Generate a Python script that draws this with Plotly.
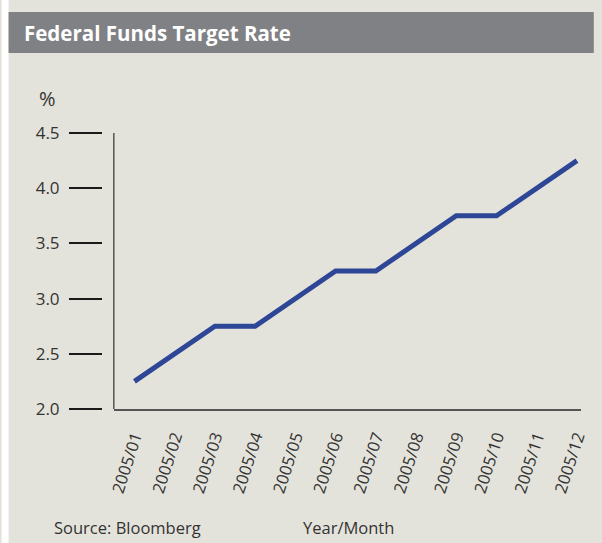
import plotly.graph_objects as go

months = ["2005/01", "2005/02", "2005/03", "2005/04", "2005/05", "2005/06",
          "2005/07", "2005/08", "2005/09", "2005/10", "2005/11", "2005/12"]
rate = [2.25, 2.5, 2.75, 2.75, 3.0, 3.25, 3.25, 3.5, 3.75, 3.75, 4.0, 4.25]
y_ticks = [2.0, 2.5, 3.0, 3.5, 4.0, 4.5]
y_ticktext = ["2.0", "2.5", "3.0", "3.5", "4.0", "4.5"]

W, H = 602, 543
BG = "#e4e3db"
HEADER = "#808185"
LINE = "#2d4696"
FONT = "Open Sans"

# plot area pixels
L, R, T, B = 102, 589, 133, 409
axis_x = 114
xd0 = (axis_x - L) / (R - L)

def px(x):
    return (x - L) / (R - L)

def py(y):
    return (B - y) / (B - T)

fig = go.Figure()
fig.add_trace(go.Scatter(
    x=months, y=rate, mode="lines",
    line=dict(color=LINE, width=5),
    hoverinfo="skip", showlegend=False,
))

fig.update_layout(
    width=W, height=H,
    margin=dict(l=L, r=W - R, t=T, b=H - B, pad=0),
    paper_bgcolor=BG, plot_bgcolor=BG,
    font=dict(family=FONT, size=16, color="#333333"),
    xaxis=dict(
        type="category", domain=[xd0, 1],
        range=[-0.513, 11.1],
        showgrid=False, zeroline=False,
        showline=True, linecolor="#555555", linewidth=1.5,
        ticks="", tickangle=-72,
        tickfont=dict(family=FONT, size=16.5, color="#333333"),
        ticklabelstandoff=10,
        fixedrange=True,
    ),
    yaxis=dict(
        range=[2.0, 4.5], anchor="free", position=0,
        tickvals=y_ticks, ticktext=y_ticktext,
        showgrid=False, zeroline=False, showline=False,
        ticks="outside", ticklen=33, tickwidth=2, tickcolor="#1a1a1a",
        tickfont=dict(family=FONT, size=17, color="#333333"),
        ticklabelstandoff=6,
        fixedrange=True,
    ),
    shapes=[
        # left white strip
        dict(type="rect", xref="paper", yref="paper", x0=px(0), x1=px(7),
             y0=py(H), y1=py(0), fillcolor="white", line=dict(width=0), layer="below"),
        # header band
        dict(type="rect", xref="paper", yref="paper", x0=px(7), x1=px(W),
             y0=py(53), y1=py(12), fillcolor=HEADER, line=dict(width=0), layer="below"),
        # y axis line
        dict(type="line", xref="x domain", yref="y domain", x0=0, x1=0, y0=0, y1=1,
             line=dict(color="#555555", width=1.5)),
    ],
    annotations=[
        dict(text="<b>Federal Funds Target Rate</b>", xref="paper", yref="paper",
             x=px(21), y=py(33), xanchor="left", yanchor="middle", showarrow=False,
             font=dict(family=FONT, size=20.5, color="white")),
        dict(text="%", xref="paper", yref="paper", x=px(47), y=py(99),
             xanchor="center", yanchor="middle", showarrow=False,
             font=dict(family=FONT, size=20, color="#333333")),
        dict(text="Source: Bloomberg", xref="paper", yref="paper", x=px(51), y=py(527),
             xanchor="left", yanchor="middle", showarrow=False,
             font=dict(family=FONT, size=16.5, color="#333333")),
        dict(text="Year/Month", xref="paper", yref="paper", x=px(304), y=py(527),
             xanchor="left", yanchor="middle", showarrow=False,
             font=dict(family=FONT, size=16.5, color="#333333")),
    ],
)

fig.write_html("out.html", config={"displayModeBar": False},
               post_script="document.body.style.margin='0';document.body.style.overflow='hidden';")
